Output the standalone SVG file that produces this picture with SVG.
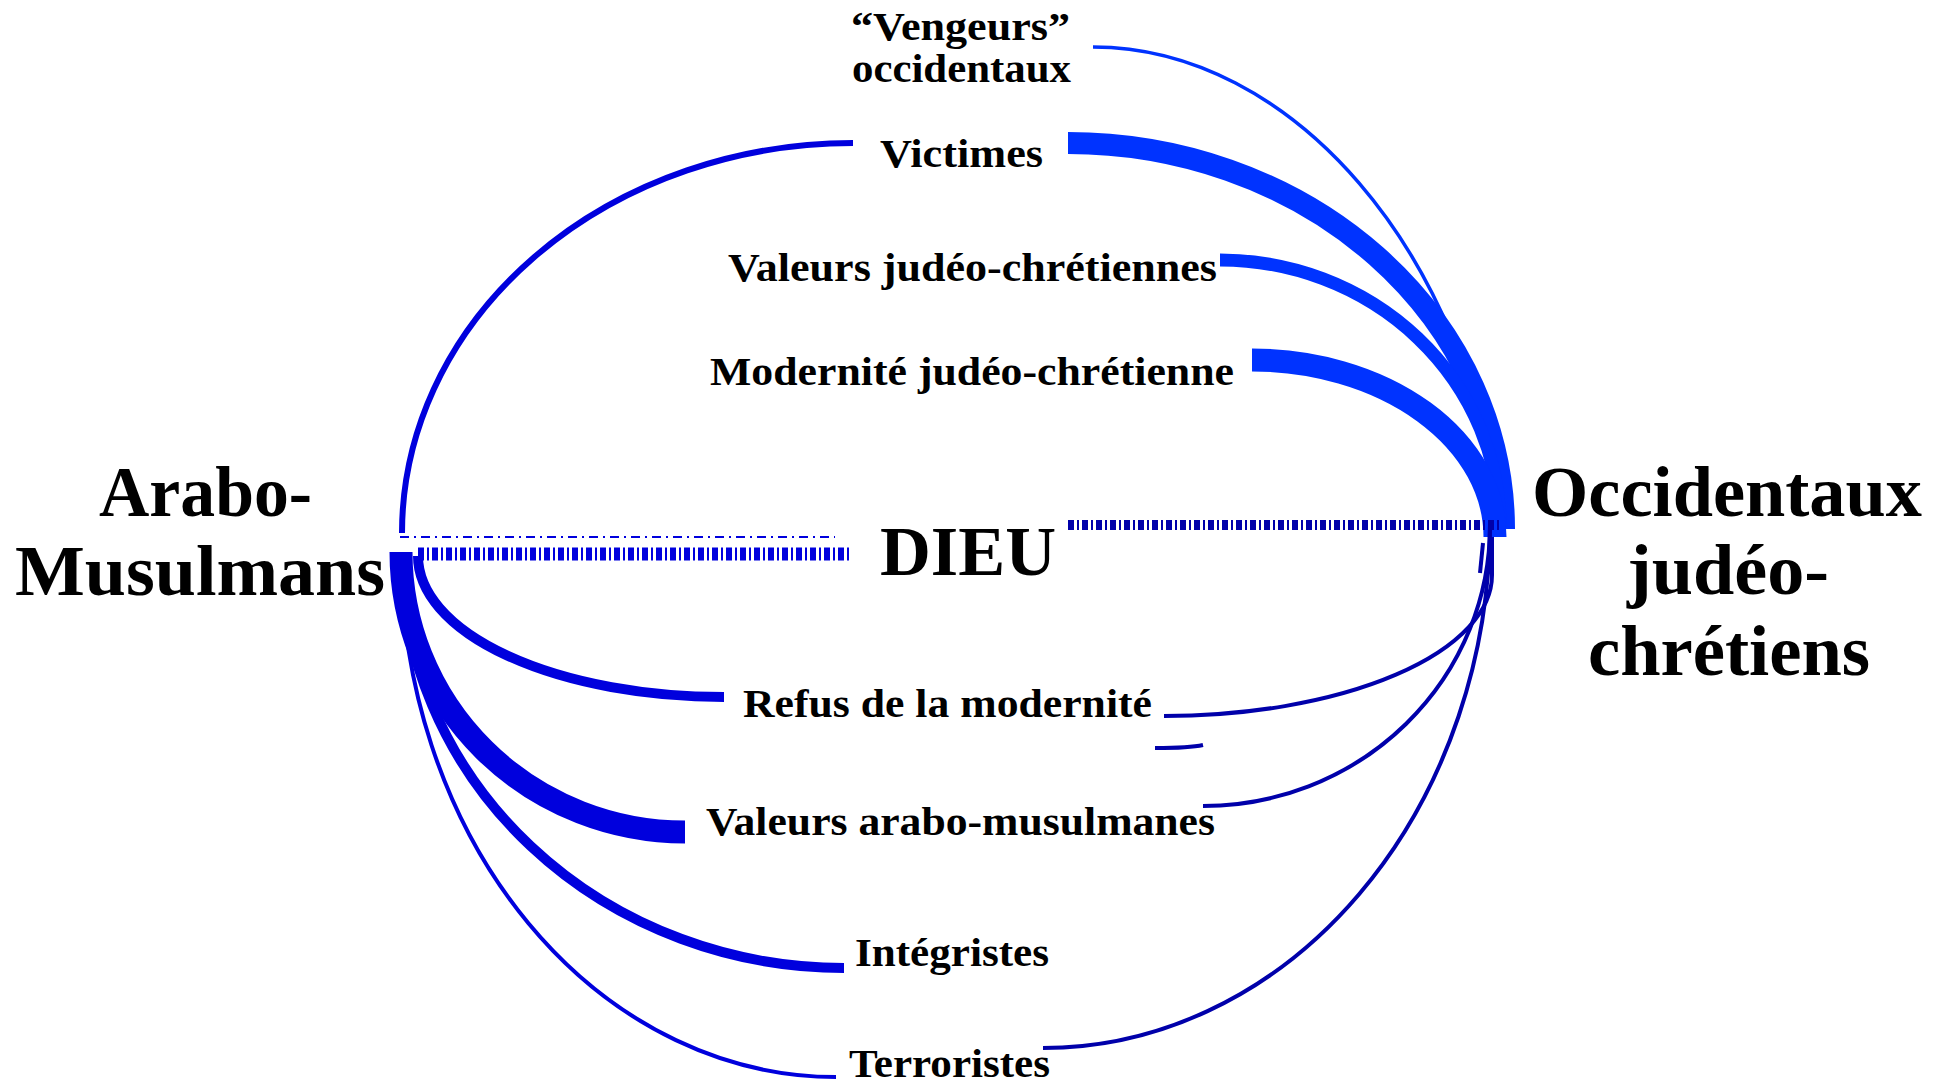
<svg xmlns="http://www.w3.org/2000/svg" width="1948" height="1085" viewBox="0 0 1948 1085">
<style>
.lbl{font-family:"Liberation Serif","Times New Roman",serif;font-weight:bold;font-size:41px;fill:#000}
.big{font-family:"Liberation Serif","Times New Roman",serif;font-weight:bold;font-size:72px;fill:#000}
.dieu{font-family:"Liberation Serif","Times New Roman",serif;font-weight:bold;font-size:70px;fill:#000}
.c{fill:none;stroke-linecap:butt}
.l{stroke:#0000DD}
.r{stroke:#0033FF}
.d{stroke:#0000AA}
</style>
<rect width="1948" height="1085" fill="#fff"/>
<g id="connectors">
  <path class="c l" stroke-width="6" d="M853,143 A451 390 0 0 0 402,533"/>
  <path class="c l" stroke-width="2" stroke-dasharray="9 5 2 5" d="M400,537 H835"/>
  <path class="c l" stroke-width="13" stroke-dasharray="6 3 2 3" d="M418,554 H851"/>
  <path class="c l" stroke-width="10" d="M418,556 A306 141 0 0 0 724,697"/>
  <path class="c l" stroke-width="4" d="M401,552 A435 525 0 0 0 836,1077"/>
  <path class="c l" stroke-width="10" d="M401,552 A443 416 0 0 0 844,968"/>
  <path class="c l" stroke-width="23" d="M401,552 A284 280 0 0 0 685,832"/>
  <path class="c r" stroke-width="3.5" d="M1093,47 C1290,47 1470,250 1500,527"/>
  <path class="c r" stroke-width="22" d="M1068,143 A436 386 0 0 1 1504,529"/>
  <path class="c r" stroke-width="13" d="M1220,260 A280 267 0 0 1 1500,527"/>
  <path class="c r" stroke-width="23" d="M1252,360 A243 177 0 0 1 1495,537"/>
  <path class="c d" stroke-width="10" stroke-dasharray="6 3 2 3" d="M1068,525 H1500"/>
  <path class="c d" stroke-width="4" d="M1164,716 A328 141 0 0 0 1492,575 V537"/>
  <path class="c d" stroke-width="4" d="M1483,543 L1480,573"/>
  <path class="c d" stroke-width="4" d="M1155,748 Q1190,748 1203,745"/>
  <path class="c d" stroke-width="4" d="M1203,806 A287 280 0 0 0 1490,526"/>
  <path class="c d" stroke-width="4" d="M1043,1048 A447 525 0 0 0 1490,523"/>
</g>
<g id="node-arabo"><text class="big" x="99" y="516" textLength="213" lengthAdjust="spacingAndGlyphs">Arabo-</text><text class="big" x="15" y="595" textLength="370" lengthAdjust="spacingAndGlyphs">Musulmans</text></g>
<g id="node-occidentaux"><text class="big" x="1532" y="516" textLength="390" lengthAdjust="spacingAndGlyphs">Occidentaux</text><text class="big" x="1627" y="594" textLength="202" lengthAdjust="spacingAndGlyphs">judéo-</text><text class="big" x="1588" y="675" textLength="282" lengthAdjust="spacingAndGlyphs">chrétiens</text></g>
<g id="node-dieu"><text class="dieu" x="880" y="575" textLength="176" lengthAdjust="spacingAndGlyphs">DIEU</text></g>
<g id="node-vengeurs"><text class="lbl" x="851" y="40" textLength="219" lengthAdjust="spacingAndGlyphs">“Vengeurs”</text><text class="lbl" x="852" y="82" textLength="219" lengthAdjust="spacingAndGlyphs">occidentaux</text></g>
<g id="node-victimes"><text class="lbl" x="880" y="167" textLength="163" lengthAdjust="spacingAndGlyphs">Victimes</text></g>
<g id="node-valeurs-jc"><text class="lbl" x="728" y="281" textLength="489" lengthAdjust="spacingAndGlyphs">Valeurs judéo-chrétiennes</text></g>
<g id="node-modernite-jc"><text class="lbl" x="710" y="385" textLength="524" lengthAdjust="spacingAndGlyphs">Modernité judéo-chrétienne</text></g>
<g id="node-refus"><text class="lbl" x="743" y="717" textLength="409" lengthAdjust="spacingAndGlyphs">Refus de la modernité</text></g>
<g id="node-valeurs-am"><text class="lbl" x="706" y="835" textLength="509" lengthAdjust="spacingAndGlyphs">Valeurs arabo-musulmanes</text></g>
<g id="node-integristes"><text class="lbl" x="855" y="966" textLength="194" lengthAdjust="spacingAndGlyphs">Intégristes</text></g>
<g id="node-terroristes"><text class="lbl" x="849" y="1077" textLength="201" lengthAdjust="spacingAndGlyphs">Terroristes</text></g>
</svg>
